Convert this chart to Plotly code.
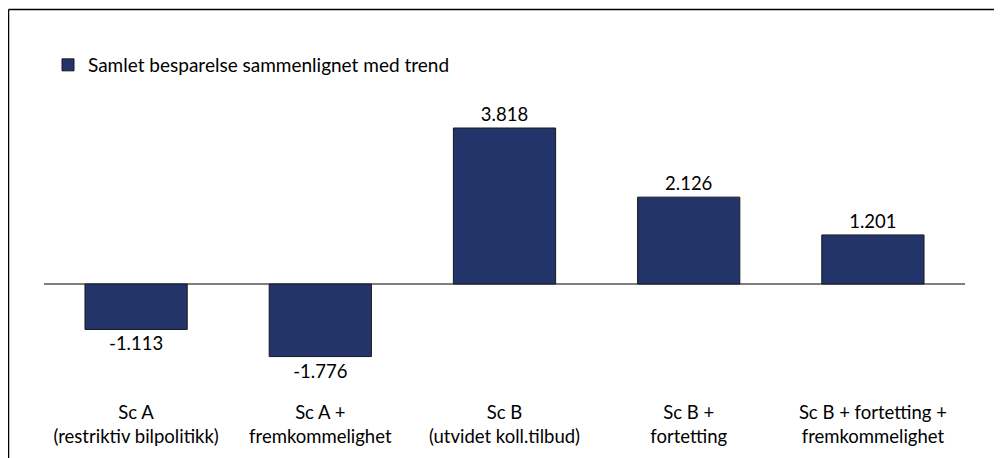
import plotly.graph_objects as go

categories = [
    "Sc A<br>(restriktiv bilpolitikk)",
    "Sc A +<br>fremkommelighet",
    "Sc B<br>(utvidet koll.tilbud)",
    "Sc B +<br>fortetting",
    "Sc B + fortetting +<br>fremkommelighet",
]
values = [-1113, -1776, 3818, 2126, 1201]
series_name = "Samlet besparelse sammenlignet med trend"

labels = [f"{v:,}".replace(",", ".") for v in values]

# the page places the figure 8px from the top-left corner of the window
W, H = 994, 450
L, R, T, B = 36, 37, 52, 59
pw, ph = W - L - R, H - T - B

def px_x(x):
    return (x - L) / pw

def px_y(y):
    return (H - B - y) / ph

zero_px = 276
scale = (zero_px - 120) / 3818.0  # px per unit
ymax = (zero_px - T) / scale
ymin = -(H - B - zero_px) / scale

FONT = "Lato"
FS = 18.5

fig = go.Figure()
fig.add_trace(go.Bar(
    x=categories,
    y=values,
    name=series_name,
    marker=dict(color="#22346A", line=dict(color="#1a1a1a", width=1)),
    text=labels,
    textposition="outside",
    textfont=dict(family=FONT, size=FS, color="#000000"),
    cliponaxis=False,
    width=0.555,
    showlegend=True,
))

fig.update_layout(
    width=W, height=H,
    margin=dict(l=L, r=R, t=T, b=B),
    paper_bgcolor="white",
    plot_bgcolor="white",
    font=dict(family=FONT, size=FS, color="#000000"),
    showlegend=True,
    legend=dict(
        x=px_x(40), y=px_y(38), xanchor="left", yanchor="top",
        bgcolor="rgba(0,0,0,0)", font=dict(family=FONT, size=19),
    ),
    xaxis=dict(
        showgrid=False, showline=False, ticks="", zeroline=False,
        tickfont=dict(family=FONT, size=FS),
    ),
    yaxis=dict(
        range=[ymin, ymax], showgrid=False, showticklabels=False, ticks="",
        showline=False, zeroline=True, zerolinecolor="#7f7f7f", zerolinewidth=1.5,
    ),
    shapes=[
        dict(type="line", xref="paper", yref="paper",
             x0=px_x(0.5), x1=px_x(W + 5), y0=px_y(1.5), y1=px_y(1.5),
             line=dict(color="#000000", width=1.5)),
        dict(type="line", xref="paper", yref="paper",
             x0=px_x(0.5), x1=px_x(0.5), y0=px_y(1.5), y1=px_y(H + 5),
             line=dict(color="#000000", width=1.5)),
    ],
)

fig.write_html("out.html")
